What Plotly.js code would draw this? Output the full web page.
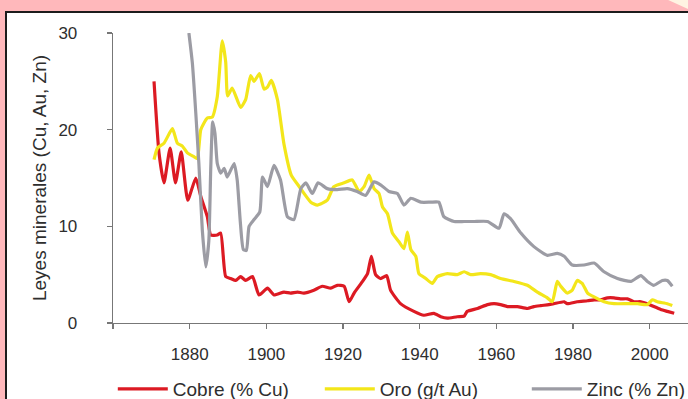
<!DOCTYPE html>
<html>
<head>
<meta charset="utf-8">
<script src="https://cdn.plot.ly/plotly-3.0.1.min.js"></script>
<style>html,body{margin:0;padding:0;background:#ffb8bb;}#chart{width:688px;height:399px;}</style>
</head>
<body>
<div id="chart"></div>
<script>
// Copper grade (% Cu)
var cuYears = [1870.7,1872.0,1873.3,1874.9,1876.3,1877.8,1879.5,1881.6,1882.9,1884.6,1885.5,1887.2,1888.1,1889.4,1890.7,1892.0,1893.3,1894.6,1896.4,1898.1,1900.3,1902.0,1904.6,1906.3,1908.1,1909.8,1912.4,1914.6,1916.8,1918.5,1920.3,1921.6,1922.9,1925.1,1926.4,1927.4,1928.5,1929.8,1931.4,1932.4,1935.0,1938.5,1941.1,1943.7,1945.5,1947.2,1949.8,1951.6,1952.4,1955.1,1957.7,1959.4,1961.1,1962.9,1965.5,1968.1,1969.8,1971.6,1973.7,1975.0,1977.7,1978.5,1981.1,1983.8,1985.5,1987.2,1989.0,1990.7,1992.4,1994.2,1995.9,1997.7,1999.4,2001.1,2002.9,2004.6,2006.4];
var cuGrade = [25.0,17.6,14.5,18.1,14.5,17.7,12.7,15.0,13.1,11.0,9.1,9.1,9.3,4.8,4.6,4.4,4.8,4.4,4.8,2.9,3.6,2.9,3.2,3.1,3.2,3.1,3.4,3.8,3.6,3.9,3.8,2.2,3.1,4.3,5.1,6.9,5.0,4.6,4.9,3.4,2.0,1.2,0.8,1.0,0.65,0.5,0.65,0.7,1.2,1.5,1.9,2.0,1.9,1.7,1.7,1.5,1.7,1.8,1.9,2.0,2.2,2.0,2.2,2.3,2.4,2.4,2.6,2.6,2.5,2.5,2.2,2.2,2.0,1.7,1.4,1.2,1.0];

// Gold grade (g/t Au)
var auYears = [1870.7,1871.6,1873.3,1875.5,1876.8,1878.1,1879.4,1881.1,1882.0,1882.9,1884.6,1885.9,1887.2,1888.5,1889.4,1889.9,1891.1,1893.3,1894.6,1895.9,1896.8,1898.2,1899.4,1900.3,1901.3,1902.9,1904.6,1906.5,1908.6,1911.6,1913.3,1915.9,1917.6,1920.3,1922.4,1924.2,1925.5,1926.8,1928.1,1929.4,1930.3,1931.6,1932.9,1934.6,1935.9,1936.8,1937.7,1939.0,1939.8,1941.6,1943.3,1944.6,1947.2,1949.8,1951.6,1953.3,1955.9,1958.5,1961.1,1964.6,1968.1,1970.7,1973.3,1974.6,1975.9,1976.8,1978.5,1979.8,1981.1,1982.4,1983.8,1985.5,1988.1,1990.7,1994.2,1996.8,1999.4,2000.7,2002.0,2004.6,2005.9];
var auGrade = [16.9,18.1,18.6,20.1,18.6,18.3,17.6,17.2,17.0,20.0,21.2,21.3,23.4,29.2,27.0,23.5,24.3,22.3,23.1,25.6,25.0,25.8,24.2,24.4,25.1,23.1,18.5,15.3,14.1,12.5,12.2,12.7,14.1,14.5,14.8,13.6,14.1,15.3,13.9,13.4,12.0,11.3,9.3,8.4,7.7,9.4,7.6,6.9,5.1,4.6,4.1,4.8,5.1,5.0,5.3,5.0,5.1,5.0,4.6,4.3,3.9,3.2,2.6,2.2,4.3,3.8,3.1,3.4,4.4,4.1,3.1,2.7,2.2,2.0,2.0,2.0,1.9,2.4,2.2,2.0,1.8];

// Zinc grade (% Zn)
var znYears = [1879.8,1880.7,1881.6,1882.4,1883.3,1884.2,1885.0,1885.5,1886.0,1886.6,1887.2,1888.1,1889.0,1889.8,1891.6,1892.4,1893.2,1894.0,1894.8,1895.5,1896.8,1898.3,1899.0,1900.3,1902.0,1903.7,1905.5,1907.2,1909.0,1910.3,1912.0,1913.5,1915.9,1918.5,1921.1,1923.7,1925.9,1928.1,1929.8,1932.0,1934.2,1935.9,1937.7,1940.3,1942.9,1945.0,1946.3,1949.0,1951.6,1954.2,1957.7,1960.7,1962.0,1963.7,1966.4,1969.8,1973.3,1975.9,1977.7,1979.8,1982.9,1985.5,1988.1,1991.6,1995.1,1997.7,1999.4,2001.1,2003.3,2004.6,2005.9];
var znGrade = [30.0,26.9,21.7,16.5,9.6,5.8,8.5,16.0,20.8,19.6,16.5,15.5,16.0,15.1,16.5,14.8,10.5,7.6,7.5,10.0,10.7,11.5,15.1,14.1,16.3,14.8,11.0,10.7,13.9,14.5,13.4,14.5,13.9,13.8,13.9,13.6,13.2,14.6,14.3,13.6,13.4,12.2,12.9,12.5,12.5,12.5,11.0,10.5,10.5,10.5,10.5,9.8,11.3,10.8,9.3,7.9,7.0,7.2,6.9,6.0,6.0,6.2,5.3,4.6,4.3,4.9,4.3,3.9,4.4,4.4,3.8];

var tickYears = [1860,1880,1900,1920,1940,1960,1980,2000];
var tickYearLabels = ['','1880','1900','1920','1940','1960','1980','2000'];
var yTicks = [0,10,20,30];

var seriesNames = ['Cobre (% Cu)','Oro (g/t Au)','Zinc (% Zn)'];
var seriesColors = ['#dc1a23','#f3e61a','#9c9ca4'];

var FONT = '"Liberation Sans", Arial, Helvetica, sans-serif';
var TXT = '#2e2e2e';

function mk(x, y, i) {
  return {x: x, y: y, type: 'scatter', mode: 'lines', name: seriesNames[i],
    line: {color: seriesColors[i], width: 3.2, shape: 'spline', smoothing: 0.5},
    hoverinfo: 'x+y'};
}
var traces = [mk(cuYears, cuGrade, 0), mk(auYears, auGrade, 1), mk(znYears, znGrade, 2)];

// pixel -> paper helpers for decorative frame
var L = 113, R = 0, T = 33, B = 76, W = 688, H = 399;
var pw = W - L - R, ph = H - T - B;
function px(x) { return (x - L) / pw; }
function py(y) { return (H - B - y) / ph; }

var layout = {
  width: W, height: H,
  margin: {l: L, r: R, t: T, b: B, pad: 0, autoexpand: false},
  paper_bgcolor: '#ffb8bb',
  plot_bgcolor: 'rgba(0,0,0,0)',
  font: {family: FONT, color: TXT, size: 17},
  showlegend: true,
  legend: {orientation: 'h', x: px(112.8), xanchor: 'left', y: py(389), yanchor: 'middle',
    font: {family: FONT, size: 19, color: TXT}, itemwidth: 50, entrywidth: 142, entrywidthmode: 'pixels',
    bgcolor: 'rgba(0,0,0,0)', traceorder: 'normal'},
  xaxis: {range: [1860, 2010], tickmode: 'array', tickvals: tickYears, ticktext: tickYearLabels,
    showgrid: false, zeroline: false, showline: true, linecolor: '#777', linewidth: 1.3,
    ticks: 'outside', ticklen: 5, tickwidth: 1.3, tickcolor: '#777', ticklabelstandoff: 10,
    tickfont: {family: FONT, size: 17, color: TXT}, fixedrange: true, automargin: false},
  yaxis: {range: [0, 30], tickmode: 'array', tickvals: yTicks,
    showgrid: false, zeroline: false, showline: true, linecolor: '#777', linewidth: 1.3,
    ticks: 'outside', ticklen: 5, tickwidth: 1.3, tickcolor: '#777', ticklabelstandoff: 26,
    tickfont: {family: FONT, size: 17, color: TXT}, automargin: false,
    title: {text: 'Leyes minerales (Cu, Au, Zn)', font: {family: FONT, size: 19, color: TXT}, standoff: 6},
    fixedrange: true},
  shapes: [
    {type: 'rect', xref: 'paper', yref: 'paper', layer: 'below',
      x0: px(6), x1: px(720), y0: py(430), y1: py(12),
      fillcolor: '#ffffff', line: {color: '#1c1c1c', width: 2}},
    {type: 'path', xref: 'paper', yref: 'paper', layer: 'below',
      path: 'M ' + px(666) + ' ' + py(-1) + ' L ' + px(690) + ' ' + py(-1) + ' L ' + px(690) + ' ' + py(10) + ' Z',
      fillcolor: '#fff4e2', line: {width: 0}}
  ]
};

Plotly.newPlot('chart', traces, layout, {displayModeBar: false, staticPlot: true});
</script>
</body>
</html>
